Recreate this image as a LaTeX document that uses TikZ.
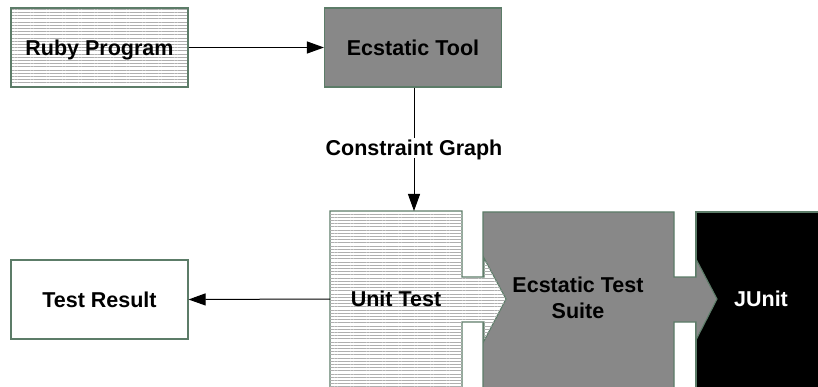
\documentclass[tikz,border=0pt]{standalone}
\usepackage{fontspec}
\setmainfont{Liberation Sans}
\usetikzlibrary{patterns.meta,arrows.meta}
\definecolor{edge}{RGB}{92,124,104}
\definecolor{midgray}{RGB}{136,136,136}
\definecolor{stripe}{RGB}{175,175,175}
\begin{document}
\begin{tikzpicture}[x=1pt,y=-1pt,
  lbl/.style={font=\bfseries\fontsize{21.5}{26}\selectfont, inner sep=2pt},
  txt/.style={lbl, text height=15.4pt, text depth=0pt},
  hatch/.style={fill=white, postaction={pattern={Lines[angle=0,distance=3.2pt,line width=1pt]}, pattern color=stripe}},
  box/.style={txt, draw=edge, line width=1.1pt, minimum width=177pt, minimum height=79pt, inner sep=0pt},
  shapeline/.style={draw=edge, line width=1.1pt},
  conn/.style={line width=1pt, -{Triangle[length=17pt,width=12pt]}},
  plain/.style={line width=1pt}]
\useasboundingbox (0,0) rectangle (818,387);
\clip (0,0) rectangle (818,387);
% top row
\path[hatch] (11,8) rectangle (188,87);
\node[box] (ruby) at (99.5,47.5) {Ruby Program};
\node[box, fill=midgray] (tool) at (413,47.5) {Ecstatic Tool};
\node[box, fill=white] (result) at (99.5,299.5) {Test Result};
% bottom chain
\path[shapeline, fill=black] (696,212) rectangle (840,400);
\path[shapeline, fill=midgray] (483,212) -- (674,212) -- (674,277) -- (696,277) -- (696,259) -- (717,299) -- (696,340) -- (696,322) -- (674,322) -- (674,400) -- (483,400) -- cycle;
\path[shapeline, hatch] (330,211) -- (462,211) -- (462,277) -- (484,277) -- (484,258) -- (506,299) -- (484,341) -- (484,322) -- (462,322) -- (462,400) -- (330,400) -- cycle;
\node[txt] (unit) at (396,299) {Unit Test};
\node[lbl, align=center] (suite) at (578,297.5) {Ecstatic Test\\Suite};
\node[txt, text=white] (junit) at (761,299) {JUnit};
\coordinate (unitW) at (330,299);
\coordinate (unitN) at (414,211);
% connectors
\draw[conn] (ruby.east) -- (tool.west);
\node[txt] (cg) at (414,148) {Constraint Graph};
\draw[plain] (tool.south -| cg.north) -- (cg.north);
\draw[conn] (cg.south) -- (unitN);
\draw[conn] (unitW) -- (result.east);
\end{tikzpicture}
\end{document}
